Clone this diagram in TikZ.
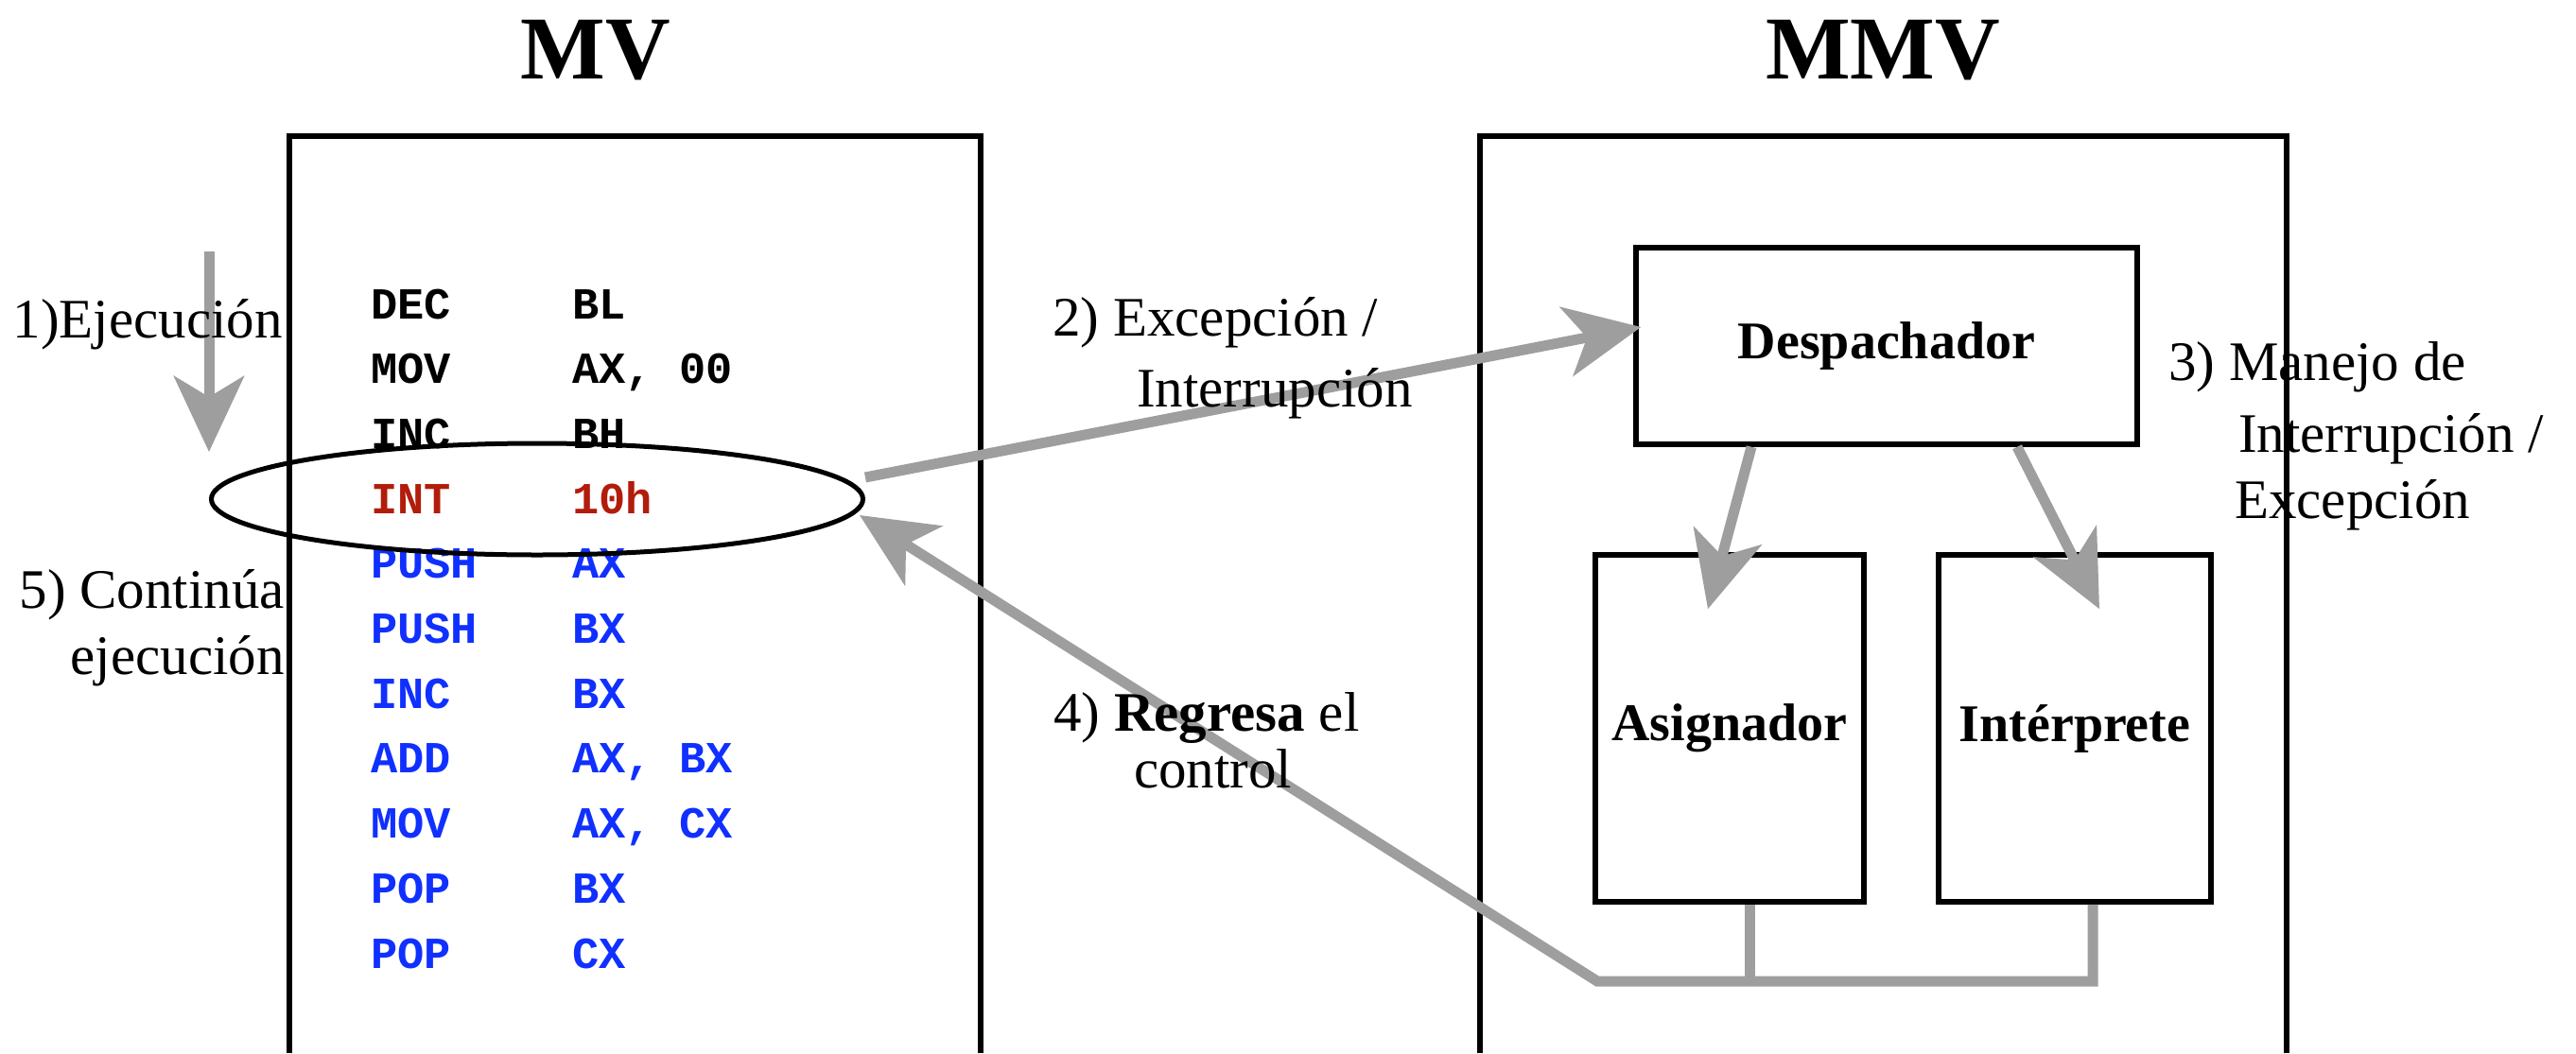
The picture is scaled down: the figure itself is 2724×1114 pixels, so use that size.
\documentclass[tikz,border=0pt]{standalone}
\usepackage{fontspec}
\setmainfont{Liberation Serif}
\newfontfamily\codefont{Liberation Mono}
\usetikzlibrary{arrows.meta,shapes.geometric}
\definecolor{arrowgray}{RGB}{158,158,158}
\definecolor{codered}{RGB}{178,28,10}
\definecolor{codeblue}{RGB}{16,48,255}

\begin{document}
\begin{tikzpicture}[x=1pt,y=-1pt,
  frame/.style={draw=black,line width=5.5pt},
  box/.style={draw=black,line width=5.5pt,inner sep=0pt,
    font=\bfseries\fontsize{56}{60}\selectfont},
  title/.style={font=\bfseries\fontsize{95}{95}\selectfont,inner sep=0pt,anchor=base},
  code/.style={font=\codefont\bfseries\fontsize{47}{47}\selectfont,inner sep=0pt,anchor=base west},
  lbl/.style={font=\fontsize{59}{59}\selectfont,inner sep=0pt},
  grayline/.style={draw=arrowgray,line width=11pt},
  flow/.style={grayline,-{Stealth[length=80pt,width=74pt,inset=22pt]}}]

\fill[white] (0,0) rectangle (2724,1114);
\useasboundingbox (0,0) rectangle (2724,1114);

% titles
\node[title] (mv) at (630,83) {MV};
\node[title] (mmv) at (1991,83) {MMV};

% machine frames (open at the bottom)
\draw[frame] (306,1114) -- (306,144) -- (1037,144) -- (1037,1114);
\draw[frame] (1565,1114) -- (1565,144) -- (2418,144) -- (2418,1114);

% monitor components
\node[box,minimum width=530pt,minimum height=208pt] (desp) at (1995,366) {Despachador};
\node[box,minimum width=284pt,minimum height=367pt] (asig) at (1829,770.5) {Asignador};
\node[box,minimum width=288pt,minimum height=367pt] (interp) at (2194,770.5) {Intérprete};

% program listing
\foreach \mn/\op/\col [count=\i] in {DEC/BL/black, MOV/{AX, 00}/black, INC/BH/black,
    INT/10h/codered, PUSH/AX/codeblue, PUSH/BX/codeblue, INC/BX/codeblue,
    ADD/{AX, BX}/codeblue, MOV/{AX, CX}/codeblue, POP/BX/codeblue, POP/CX/codeblue}{
  \node[code,text=\col] (mn\i) at (392,{337+68.7*(\i-1)}) {\mn};
  \node[code,text=\col] (op\i) at (605,{337+68.7*(\i-1)}) {\op};
}

% trapped instruction
\node[draw=black,ellipse,line width=5pt,minimum width=689pt,minimum height=118pt,inner sep=0pt] (int) at (568,528) {};

% execution flow
\coordinate (exectop) at (221,266);
\coordinate (execend) at (221,478);
\draw[flow] (exectop) -- (execend);

\draw[flow] ([yshift=23pt]int.east) -- ([xshift=8pt,yshift=20pt]desp.west);
\draw[flow] ([xshift=-143pt]desp.south) -- ([xshift=-23pt,yshift=-60pt]asig.north);
\draw[flow] ([xshift=138pt]desp.south) -- ([xshift=26pt,yshift=-60pt]interp.north);

% return of control
\coordinate (corner) at (1689,1038);
\path ([xshift=21pt]asig.south) coordinate (adrop);
\path ([xshift=19pt]interp.south) coordinate (idrop);
\draw[grayline] (adrop) -- (adrop |- corner);
\draw[flow] (idrop) -- (idrop |- corner) -- (corner) -- ([xshift=-6pt,yshift=-17pt]int.east);

% step labels
\node[lbl,anchor=base east] (l1) at (299,357) {1)Ejecución};
\node[lbl,anchor=base east] (l5a) at (301,643) {5) Continúa};
\node[lbl,anchor=base east] (l5b) at (301,713) {ejecución};
\node[lbl,anchor=base west] (l2a) at (1113,355) {2) Excepción /};
\node[lbl,anchor=base west] (l2b) at (1202,430) {Interrupción};
\node[lbl,anchor=base west] (l4a) at (1114,773) {4) \textbf{Regresa} el};
\node[lbl,anchor=base west] (l4b) at (1199,833) {control};
\node[lbl,anchor=base west] (l3a) at (2293,402) {3) Manejo de};
\node[lbl,anchor=base west] (l3b) at (2367,478) {Interrupción /};
\node[lbl,anchor=base west] (l3c) at (2363,548) {Excepción};
\end{tikzpicture}
\end{document}
